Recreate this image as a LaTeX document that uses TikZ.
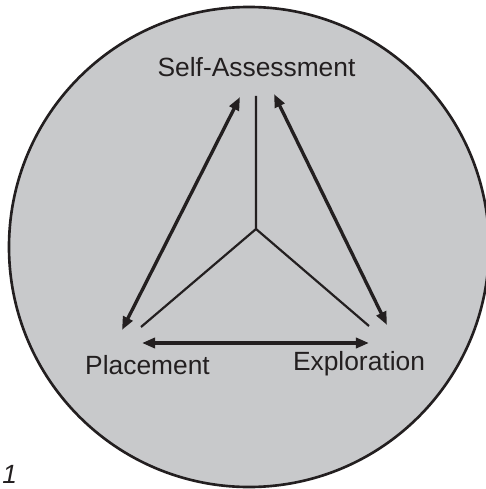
\documentclass[tikz,border=0pt]{standalone}
\usepackage{fontspec}
\setmainfont{Liberation Sans}
\usetikzlibrary{arrows.meta}
\definecolor{DiscClr}{RGB}{200,201,203}
\definecolor{InkClr}{RGB}{35,31,32}

\begin{document}
\begin{tikzpicture}[x=0.02cm,y=-0.02cm,
  thin leg/.style={line width=1.25pt,color=InkClr},
  link/.style={line width=1.9pt,color=InkClr,
    {Triangle[length=7.5pt,width=5.8pt]}-{Triangle[length=7.5pt,width=5.8pt]}},
  label/.style={font=\fontsize{15}{18}\selectfont,text=InkClr,inner sep=0pt}]
\useasboundingbox (0,0) rectangle (485,489);

\fill[DiscClr,draw=InkClr,line width=1.5pt] (249,247) circle (240);

\coordinate (C) at (256,229);
\coordinate (s) at (256,96);
\coordinate (p) at (141,327);
\coordinate (e) at (369,326);

\coordinate (sl) at (240,97);
\coordinate (pl) at (122,330);
\coordinate (sr) at (274,94);
\coordinate (er) at (387,325);
\coordinate (pb) at (142,343);
\coordinate (eb) at (369,343);

\draw[thin leg] (s) -- (C) -- (p);
\draw[thin leg] (C) -- (e);

\draw[link] (sl) -- (pl);
\draw[link] (sr) -- (er);
\draw[link] (pb) -- (eb);

\node[label] (self) at (256.5,67) {Self-Assessment};
\node[label] (place) at (147.5,365) {Placement};
\node[label] (explo) at (359,364) {Exploration};

\node[label,font=\fontsize{15}{18}\selectfont\itshape,anchor=west] (num) at (2,474) {1};

\end{tikzpicture}
\end{document}
